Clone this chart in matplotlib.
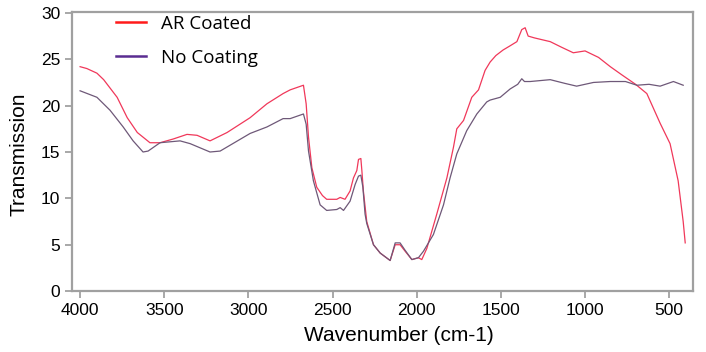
import matplotlib
matplotlib.use('Agg')
import matplotlib.pyplot as plt
from matplotlib.lines import Line2D

# AR coated spectrum (wavenumber, transmission)
red_wn = [4000, 3960, 3900, 3860, 3780, 3720, 3660, 3585, 3525, 3447, 3365, 3305, 3228, 3127,
          2990, 2890, 2794, 2752, 2673, 2657, 2643, 2623, 2594, 2560, 2535, 2475, 2455, 2426,
          2396, 2376, 2356, 2346, 2332, 2326, 2317, 2297, 2257, 2217, 2158, 2128, 2099, 2069,
          2029, 1990, 1970, 1940, 1881, 1821, 1782, 1762, 1722, 1673, 1633, 1594, 1564, 1530,
          1487, 1450, 1405, 1376, 1356, 1338, 1300, 1207, 1140, 1070, 1000, 920, 850, 780,
          700, 633, 554, 495, 447, 417, 405]
red_val = [24.2, 24.0, 23.5, 22.8, 20.9, 18.7, 17.1, 16.0, 16.0, 16.4, 16.9, 16.8, 16.2, 17.1,
           18.7, 20.2, 21.3, 21.7, 22.2, 20.2, 16.6, 13.3, 11.2, 10.3, 9.9, 9.9, 10.1, 9.9,
           10.8, 12.2, 13.0, 14.2, 14.3, 13.0, 10.8, 7.5, 5.0, 4.1, 3.3, 5.0, 5.0, 4.3,
           3.4, 3.6, 3.4, 4.6, 8.3, 12.2, 15.5, 17.5, 18.4, 20.9, 21.7, 23.8, 24.7, 25.4,
           26.0, 26.4, 26.9, 28.2, 28.4, 27.5, 27.3, 26.9, 26.3, 25.7, 25.9, 25.2, 24.2, 23.3,
           22.3, 21.3, 18.1, 15.9, 11.9, 7.5, 5.2]

# uncoated spectrum
pur_wn = [4000, 3900, 3822, 3744, 3685, 3626, 3596, 3525, 3406, 3346, 3228, 3168, 2990, 2890,
          2794, 2752, 2673, 2657, 2643, 2614, 2574, 2535, 2475, 2455, 2435, 2396, 2366, 2346,
          2332, 2320, 2307, 2297, 2257, 2217, 2158, 2128, 2099, 2069, 2029, 1990, 1960, 1901,
          1841, 1802, 1762, 1703, 1643, 1584, 1564, 1504, 1445, 1400, 1376, 1360, 1326, 1207,
          1120, 1050, 950, 850, 760, 692, 620, 554, 475, 417]
pur_val = [21.6, 20.9, 19.5, 17.7, 16.2, 15.0, 15.1, 16.0, 16.2, 15.9, 15.0, 15.1, 17.0, 17.7,
           18.6, 18.6, 19.1, 18.0, 15.1, 11.9, 9.3, 8.7, 8.8, 9.0, 8.7, 9.7, 11.5, 12.4,
           12.5, 11.2, 8.3, 7.3, 5.0, 4.1, 3.3, 5.2, 5.2, 4.4, 3.4, 3.6, 4.3, 6.1,
           9.3, 12.2, 14.8, 17.3, 19.1, 20.4, 20.6, 20.9, 21.8, 22.3, 22.9, 22.6, 22.6, 22.8,
           22.4, 22.1, 22.5, 22.6, 22.6, 22.2, 22.3, 22.1, 22.6, 22.2]

labels = ['AR Coated', 'No Coating']
xticks = [4000, 3500, 3000, 2500, 2000, 1500, 1000, 500]
yticks = [0, 5, 10, 15, 20, 25, 30]

plt.rcParams['font.family'] = ['Liberation Sans', 'DejaVu Sans']

fig = plt.figure(figsize=(7.06, 3.52), dpi=100)
ax = fig.add_axes([0.102, 0.173, 0.880, 0.793])

ax.plot(red_wn, red_val, color='#f0385a', lw=0.9)
ax.plot(pur_wn, pur_val, color='#6e5878', lw=0.9)

ax.set_xlim(4048, 357)
ax.set_ylim(0, 30.1)
ax.set_xticks(xticks)
ax.set_yticks(yticks)
ax.tick_params(labelsize=12.5, length=5, width=1.2, color='#999999', direction='out')

for s in ax.spines.values():
    s.set_color('#a0a0a0')
    s.set_linewidth(1.6)

ax.set_xlabel('Wavenumber (cm-1)', fontsize=15)
ax.xaxis.set_label_coords(0.526, -0.125)
ax.set_ylabel('Transmission', fontsize=15)
ax.yaxis.set_label_coords(-0.07, 0.49)

handles = [Line2D([], [], color='#ff1a1a', lw=1.8),
           Line2D([], [], color='#5a2d91', lw=1.8)]
ax.legend(handles, labels, loc='upper left', bbox_to_anchor=(0.07, 0.99),
          frameon=False, handlelength=1.6, handletextpad=0.8,
          labelspacing=0.85, borderpad=0, borderaxespad=0,
          prop={'family': ['Open Sans', 'DejaVu Sans'], 'size': 13.5})

fig.savefig('out.png', dpi=100)
